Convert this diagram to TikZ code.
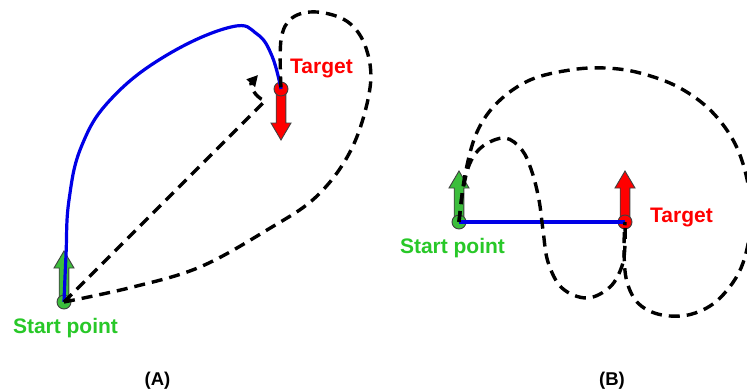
\documentclass[tikz,border=0pt]{standalone}
\usepackage{fontspec}
\setmainfont{Liberation Sans}
\usetikzlibrary{arrows.meta}
\definecolor{gfill}{RGB}{60,190,60}
\definecolor{glabel}{RGB}{40,200,40}
\definecolor{rfill}{RGB}{255,0,0}
\definecolor{bline}{RGB}{0,0,230}
\begin{document}
\begin{tikzpicture}[x=1pt,y=-1pt,
  dotnode/.style={circle, draw=black!75, line width=0.9pt, minimum size=14pt, inner sep=0pt},
  lbl/.style={font=\bfseries\fontsize{21}{21}\selectfont, inner sep=0pt, anchor=base},
  caption/.style={font=\bfseries\fontsize{18.5}{18.5}\selectfont, inner sep=0pt, anchor=base},
  dashline/.style={draw=black, line width=3.4pt, dash pattern=on 11pt off 7pt},
  blueline/.style={draw=bline, line width=3.2pt},
  fatarrow/.pic={\path[pic actions] (-4.8,0) -- (-4.8,-34) -- (-10,-34) -- (0,-51) -- (10,-34) -- (4.8,-34) -- (4.8,0) -- cycle;},
  garrow/.style={fill=gfill, draw=black!75, line width=0.9pt},
  rarrow/.style={fill=rfill, draw=black!75, line width=0.9pt}
]
\useasboundingbox (0,0) rectangle (747,391);
\clip (0,0) rectangle (747,391);

% ---------- Panel A ----------
\pic[garrow] at (64,302) {fatarrow};
\pic[rarrow, rotate=180] at (281,89) {fatarrow};
\node[dotnode, fill=gfill] (sA) at (64,302) {};
\node[dotnode, fill=rfill] (tA) at (281,89) {};
\node[lbl, text=glabel] (lsA) at (65.5,333) {Start point};
\node[lbl, text=rfill] (ltA) at (321.5,73) {Target};
\node[caption] (capA) at (157.5,385) {(A)};

\draw[blueline] plot[smooth, tension=0.7] coordinates {(sA.center) (66,255) (69,200) (82,145) (112,98) (167,55) (231,27) (257,34) (272,56) (tA.center)};

\draw[dashline, -{Triangle[length=11pt,width=11pt]}] (sA.center) -- (265,101) .. controls (253,96) and (250,84) .. (258,75);

\draw[dashline] plot[smooth, tension=0.6] coordinates {(sA.center) (133,287) (200,267) (267,230) (317,196) (352,148) (370,88) (366,48) (348,22) (317,12) (292,18) (281,40) (tA.center)};

% ---------- Panel B ----------
\pic[garrow] at (459,222) {fatarrow};
\pic[rarrow] at (625,222) {fatarrow};
\node[dotnode, fill=gfill] (sB) at (459,222) {};
\node[dotnode, fill=rfill] (tB) at (625,222) {};
\node[lbl, text=glabel] (lsB) at (452.5,253) {Start point};
\node[lbl, text=rfill] (ltB) at (681.5,222) {Target};
\node[caption] (capB) at (612,385) {(B)};

\draw[blueline] (sB.center) -- (tB.center);

\draw[dashline] plot[smooth, tension=0.6] coordinates {(sB.center) (463,190) (470,163) (483,146) (505,138) (522,150) (532,172) (539,200) (543,230) (548,262) (562,288) (587,298) (610,287) (622,266) (625,245) (tB.center)};

\draw[dashline] plot[smooth, tension=0.6] coordinates {(sB.center) (465,175) (477,132) (498,102) (530,80) (570,70) (605,68) (640,73) (680,88) (715,115) (740,155) (751,210) (743,263) (720,298) (692,314) (662,315) (639,304) (627,282) (624,252) (tB.center)};
\end{tikzpicture}
\end{document}
